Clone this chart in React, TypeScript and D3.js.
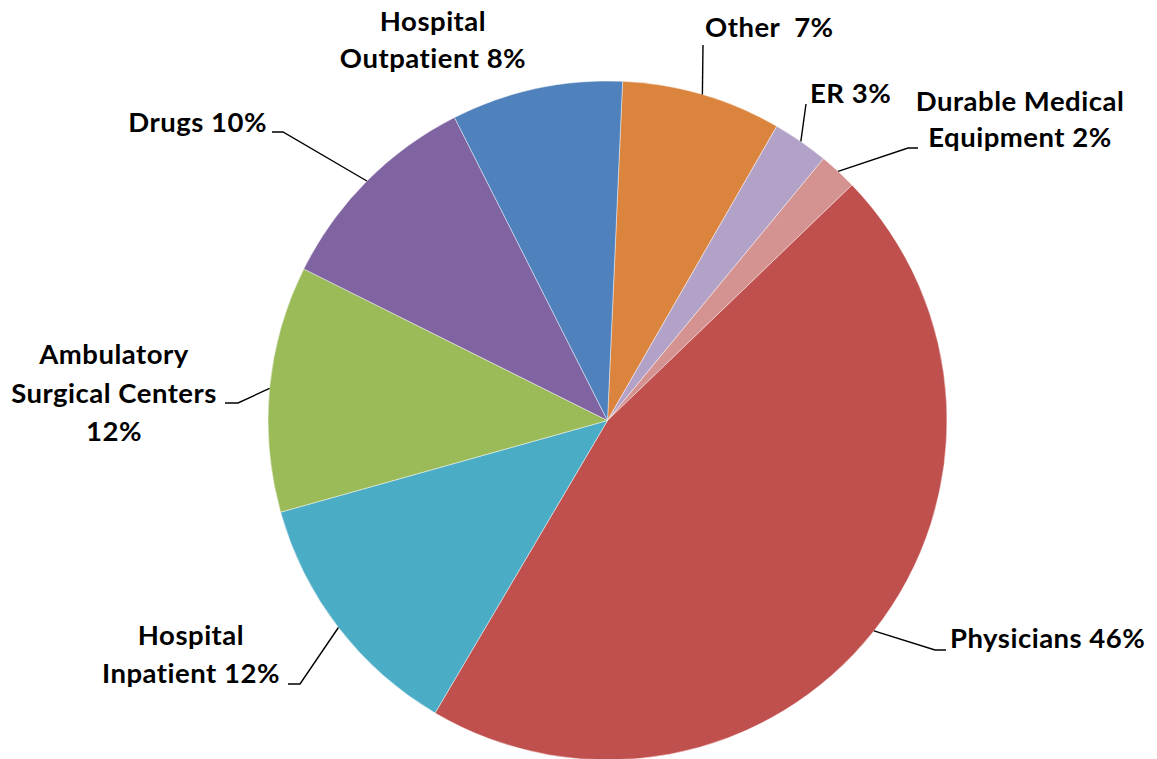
import React from "react";
import * as d3 from "d3";

// ---- data ----
const categories = [
  "Other",
  "ER",
  "Durable Medical Equipment",
  "Physicians",
  "Hospital Inpatient",
  "Ambulatory Surgical Centers",
  "Drugs",
  "Hospital Outpatient",
];
const values = [7.6, 2.67, 1.82, 45.68, 12.17, 11.72, 10.19, 8.15];
const labelLines = [
  ["Other  7%"],
  ["ER 3%"],
  ["Durable Medical", "Equipment 2%"],
  ["Physicians 46%"],
  ["Hospital", "Inpatient 12%"],
  ["Ambulatory", "Surgical Centers", "12%"],
  ["Drugs 10%"],
  ["Hospital", "Outpatient 8%"],
];

// ---- layout / style ----
const W = 1157;
const H = 759;
const CX = 607.5;
const CY = 420.5;
const R = 339.5;
const START = (2.55 * Math.PI) / 180;
const colors = [
  "#DB843D",
  "#B3A2C7",
  "#D49391",
  "#C0504D",
  "#4BACC6",
  "#9BBB59",
  "#8064A2",
  "#4F81BD",
];
type LabelLayout = {
  x: number;
  baselines: number[];
  anchor: "start" | "middle" | "end";
  leader: [number, number][] | null;
};
const labelLayout: LabelLayout[] = [
  { x: 705, baselines: [37], anchor: "start", leader: [[703, 45]] },
  { x: 810, baselines: [103], anchor: "start", leader: [[806, 104]] },
  { x: 1020, baselines: [111, 147], anchor: "middle", leader: [[908, 148], [918, 148]] },
  { x: 950, baselines: [648], anchor: "start", leader: [[935, 650], [946, 650]] },
  { x: 191, baselines: [645, 683], anchor: "middle", leader: [[300, 684], [288, 684]] },
  { x: 114, baselines: [364, 402.5, 441], anchor: "middle", leader: [[238, 403], [225, 403]] },
  { x: 267, baselines: [132], anchor: "end", leader: [[283, 132], [272, 132]] },
  { x: 433, baselines: [31, 68], anchor: "middle", leader: null },
];
const FONT = "Lato, 'Open Sans', sans-serif";
const FONT_SIZE = 27.5;
const LETTER_SPACING = 0.5;

export default function App() {
  const pie = d3
    .pie<number>()
    .sort(null)
    .value((d) => d)
    .startAngle(START)
    .endAngle(START + 2 * Math.PI);
  const arcs = pie(values);
  const arcGen = d3.arc<d3.PieArcDatum<number>>().innerRadius(0).outerRadius(R);

  return (
    <svg
      width={W}
      height={H}
      style={{ position: "absolute", left: 0, top: 0, background: "#fff" }}
    >
      <g transform={`translate(${CX},${CY})`}>
        {arcs.map((a, i) => (
          <path
            key={categories[i]}
            d={arcGen(a) || ""}
            fill={colors[i]}
            stroke="#ffffff"
            strokeOpacity={0.55}
            strokeWidth={0.8}
          />
        ))}
      </g>
      {arcs.map((a, i) => {
        const lay = labelLayout[i];
        const mid = (a.startAngle + a.endAngle) / 2;
        const sx = CX + R * Math.sin(mid);
        const sy = CY - R * Math.cos(mid);
        const pts: [number, number][] = lay.leader ? [[sx, sy], ...lay.leader] : [];
        return (
          <g key={"lab" + i}>
            {lay.leader && (
              <path
                d={d3.line()(pts) || ""}
                fill="none"
                stroke="#000"
                strokeWidth={1.4}
              />
            )}
            {labelLines[i].map((t, j) => (
              <text
                key={j}
                x={lay.x}
                y={lay.baselines[j]}
                textAnchor={lay.anchor}
                fontFamily={FONT}
                fontWeight={700}
                fontSize={FONT_SIZE}
                letterSpacing={LETTER_SPACING}
                fill="#000"
                style={{ whiteSpace: "pre" }}
              >
                {t}
              </text>
            ))}
          </g>
        );
      })}
    </svg>
  );
}
